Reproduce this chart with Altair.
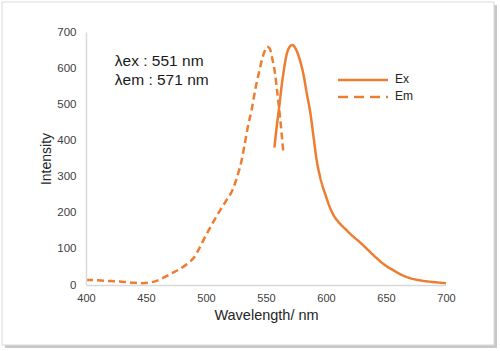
import altair as alt
import pandas as pd

ORANGE = "#ED7D31"

em_wl = [400, 410, 420, 430, 440, 447, 455, 460, 465, 470, 478, 485, 490, 495, 500, 504, 508, 512,
         517, 522, 526, 529, 532, 535, 538, 541, 544, 547, 549, 551, 553, 555, 557.5, 559.5, 561.5, 563, 564.5]
em_i = [14, 13, 11, 9, 6, 5, 8, 13, 21, 30, 44, 60, 76, 105, 138, 162, 186, 208,
        234, 262, 300, 335, 385, 440, 484, 540, 586, 628, 648, 659, 655, 630, 586, 530, 470, 420, 364]

ex_wl = [557, 559, 561, 563, 564.5, 567, 569.5, 572, 575, 578, 581, 584, 587, 590, 592, 595, 600,
         603, 606, 610, 617, 622, 628, 635, 642, 650, 656, 663, 670, 680, 690, 700]
ex_i = [380, 440, 493, 550, 586, 635, 658, 664, 652, 625, 586, 530, 475, 400, 350, 300, 245,
        217, 195, 176, 152, 136, 119, 97, 75, 53, 41, 28, 19, 12, 8, 5]

note_lines = ["λex : 551 nm", "λem : 571 nm"]
note_x = [424, 424]
note_y = [621, 568]

legend_names = ["Ex", "Em"]
x_ticks = [400, 450, 500, 550, 600, 650, 700]
y_ticks = [0, 100, 200, 300, 400, 500, 600, 700]

df = pd.concat([
    pd.DataFrame({"wl": ex_wl, "I": ex_i, "series": "Ex"}),
    pd.DataFrame({"wl": em_wl, "I": em_i, "series": "Em"}),
])
notes = pd.DataFrame({"t": note_lines, "x": note_x, "y": note_y})

xscale = alt.Scale(domain=[400, 700], nice=False, zero=False)
yscale = alt.Scale(domain=[0, 700], nice=False)

xaxis = alt.Axis(title="Wavelength/ nm", values=x_ticks,
                 ticks=False, grid=False, domainColor="#D9D9D9", domainWidth=1.5,
                 labelPadding=7, labelFontSize=11, labelColor="#404040",
                 labelOverlap=False, labelFlush=False,
                 titleFontSize=14.5, titleFontWeight="normal", titleColor="#262626",
                 titlePadding=5, labelFont="Liberation Sans", titleFont="Liberation Sans",
                 zindex=1)
yaxis = alt.Axis(title="Intensity", values=y_ticks,
                 ticks=False, grid=False, domainColor="#D9D9D9", domainWidth=1.5,
                 labelPadding=10, labelFontSize=11.5, labelColor="#404040",
                 labelOverlap=False, labelFlush=False,
                 titleFontSize=14, titleFontWeight="normal", titleColor="#262626",
                 titlePadding=3, labelFont="Liberation Sans", titleFont="Liberation Sans",
                 zindex=1)

one = pd.DataFrame({"a": [0]})

frame_shadow = alt.Chart(one).mark_rect(
    fill="#C8C8C8", clip=False
).encode(x=alt.value(-81), x2=alt.value(411), y=alt.value(-27), y2=alt.value(316))

frame = alt.Chart(one).mark_rect(
    fill="white", stroke="#D9D9D9", strokeWidth=1, clip=False
).encode(x=alt.value(-84), x2=alt.value(408), y=alt.value(-30), y2=alt.value(313))

lines = alt.Chart(df).mark_line(
    color=ORANGE, strokeWidth=2.5, interpolate="monotone"
).encode(
    x=alt.X("wl:Q", scale=xscale, axis=xaxis),
    y=alt.Y("I:Q", scale=yscale, axis=yaxis),
    strokeDash=alt.StrokeDash(
        "series:N",
        scale=alt.Scale(domain=legend_names, range=[[1, 0], [7, 4]]),
        legend=None,
    ),
    detail="series:N",
)

text = alt.Chart(notes).mark_text(
    align="left", baseline="middle", fontSize=15.5, font="Liberation Sans", color="#1a1a1a"
).encode(x=alt.X("x:Q", scale=xscale, axis=xaxis),
         y=alt.Y("y:Q", scale=yscale, axis=yaxis), text="t:N")

# manual legend (decoration)
leg_ex_line = alt.Chart(one).mark_rule(color=ORANGE, strokeWidth=2.5).encode(
    x=alt.value(252), x2=alt.value(302), y=alt.value(48))
leg_em_line = alt.Chart(one).mark_rule(color=ORANGE, strokeWidth=2.5, strokeDash=[10, 6]).encode(
    x=alt.value(252), x2=alt.value(302), y=alt.value(65))
leg_ex_text = alt.Chart(one).mark_text(
    align="left", baseline="middle", fontSize=12, font="Liberation Sans", color="#262626", text=legend_names[0]
).encode(x=alt.value(309), y=alt.value(47))
leg_em_text = alt.Chart(one).mark_text(
    align="left", baseline="middle", fontSize=12, font="Liberation Sans", color="#262626", text=legend_names[1]
).encode(x=alt.value(309), y=alt.value(64))

chart = alt.layer(frame_shadow, frame, lines, text,
                  leg_ex_line, leg_em_line, leg_ex_text, leg_em_text).properties(
    width=360, height=253,
    autosize=alt.AutoSizeParams(type="none"),
    padding={"left": 86, "top": 32, "right": 54, "bottom": 66},
    background="white",
).configure_view(stroke=None)

chart.save("out.html", embed_options={"renderer": "svg", "actions": False})
